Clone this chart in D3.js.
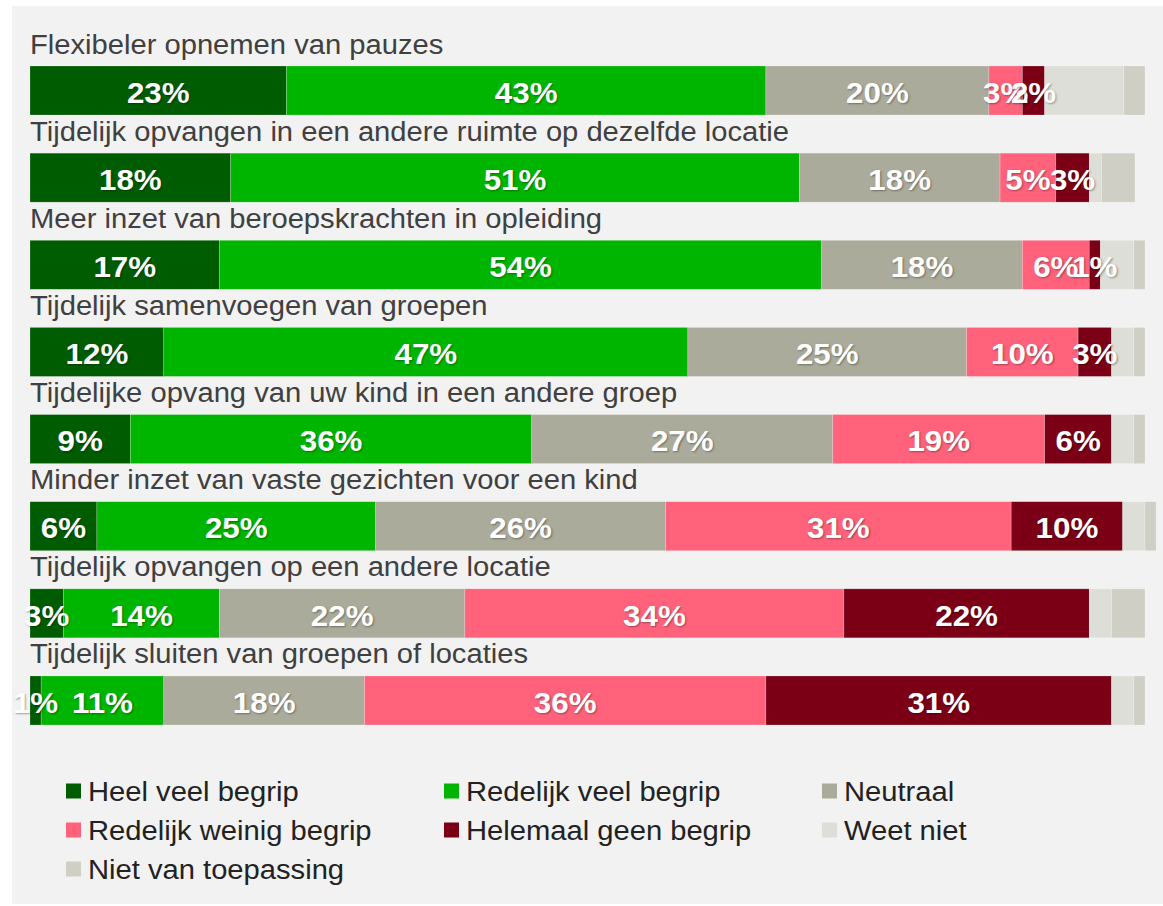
<!DOCTYPE html>
<html>
<head>
<meta charset="utf-8">
<script src="https://cdn.jsdelivr.net/npm/d3@7"></script>
<style>
  body { margin: 0; background: #ffffff; }
  svg { display: block; font-family: "Liberation Sans", Arial, sans-serif; }
  .val { text-shadow: 1px 1px 2px rgba(0,0,0,0.35); }
</style>
</head>
<body>
<svg width="1163" height="906"></svg>
<script>
// categories (top to bottom)
const categories = [
  "Flexibeler opnemen van pauzes",
  "Tijdelijk opvangen in een andere ruimte op dezelfde locatie",
  "Meer inzet van beroepskrachten in opleiding",
  "Tijdelijk samenvoegen van groepen",
  "Tijdelijke opvang van uw kind in een andere groep",
  "Minder inzet van vaste gezichten voor een kind",
  "Tijdelijk opvangen op een andere locatie",
  "Tijdelijk sluiten van groepen of locaties"
];

const seriesNames = [
  "Heel veel begrip",
  "Redelijk veel begrip",
  "Neutraal",
  "Redelijk weinig begrip",
  "Helemaal geen begrip",
  "Weet niet",
  "Niet van toepassing"
];

const seriesColors = ["#005c00", "#00b500", "#abab9b", "#ff627a", "#7b0016", "#deded8", "#cfcfc5"];

// percentages per series, one value per category
const heelVeel     = [23.0, 18.0, 17.0, 12.0,  9.0,  6.0,  3.0,  1.0];
const redelijkVeel = [43.0, 51.0, 54.0, 47.0, 36.0, 25.0, 14.0, 11.0];
const neutraal     = [20.0, 18.0, 18.0, 25.0, 27.0, 26.0, 22.0, 18.0];
const redWeinig    = [ 3.0,  5.0,  6.0, 10.0, 19.0, 31.0, 34.0, 36.0];
const geenBegrip   = [ 2.0,  3.0,  1.0,  3.0,  6.0, 10.0, 22.0, 31.0];
const weetNiet     = [ 7.1,  1.1,  3.0,  2.0,  2.0,  2.0,  2.0,  2.0];
const nvt          = [ 1.9,  3.0,  1.0,  1.0,  1.0,  1.0,  3.0,  1.0];

const seriesValues = [heelVeel, redelijkVeel, neutraal, redWeinig, geenBegrip, weetNiet, nvt];
const labelledSeries = 5; // only first five series get a value label
const stretch = 1.08;     // text in the original is a bit wider than plain Arial

// build rows for stacking
const rows = categories.map((c, i) => {
  const r = { cat: c };
  seriesNames.forEach((s, j) => { r[s] = seriesValues[j][i]; });
  return r;
});

const svg = d3.select("svg");

// background panel
svg.append("rect")
  .attr("x", 12).attr("y", 6)
  .attr("width", 1151).attr("height", 898)
  .attr("fill", "#f2f2f2");

const x = d3.scaleLinear().domain([0, 100]).range([30, 1145]);

const step = 87.14, barH = 49;
const y = d3.scaleBand()
  .domain(categories)
  .range([66, 66 + 7 * step + barH])
  .paddingInner((step - barH) / step)
  .paddingOuter(0)
  .align(0);

const stacked = d3.stack().keys(seriesNames)(rows);

const layers = svg.append("g").selectAll("g")
  .data(stacked)
  .join("g")
  .attr("fill", (d, i) => seriesColors[i]);

layers.selectAll("rect")
  .data(d => d)
  .join("rect")
  .attr("x", d => x(d[0]))
  .attr("y", d => y(d.data.cat))
  .attr("width", d => x(d[1]) - x(d[0]))
  .attr("height", y.bandwidth())
  .attr("stroke", "rgba(255,255,255,0.35)")
  .attr("stroke-width", 0.6);

// category labels above bars
svg.append("g").selectAll("text")
  .data(categories)
  .join("text")
  .attr("transform", d => `translate(30,${y(d) - 12.5}) scale(${stretch},1)`)
  .attr("font-size", 27)
  .attr("fill", "#404040")
  .text(d => d);

// value labels
const labelG = svg.append("g");
stacked.slice(0, labelledSeries).forEach(layer => {
  labelG.selectAll(null)
    .data(layer)
    .join("text")
    .attr("class", "val")
    .attr("transform", d => `translate(${(x(d[0]) + x(d[1])) / 2},${y(d.data.cat) + 36.7}) scale(${stretch},1)`)
    .attr("text-anchor", "middle")
    .attr("font-size", 29)
    .attr("font-weight", "bold")
    .attr("fill", "#ffffff")
    .text(d => Math.round(d[1] - d[0]) + "%");
});

// legend
const legendCols = [66, 444, 822];
const legendRows = [791, 830, 869];
const legend = svg.append("g").selectAll("g")
  .data(seriesNames)
  .join("g")
  .attr("transform", (d, i) => `translate(${legendCols[i % 3]},${legendRows[Math.floor(i / 3)]})`);

legend.append("rect")
  .attr("x", 0).attr("y", -7.5)
  .attr("width", 15).attr("height", 15)
  .attr("fill", (d, i) => seriesColors[i]);

legend.append("text")
  .attr("transform", `translate(22,10) scale(${stretch},1)`)
  .attr("font-size", 27)
  .attr("fill", "#222222")
  .text(d => d);
</script>
</body>
</html>
